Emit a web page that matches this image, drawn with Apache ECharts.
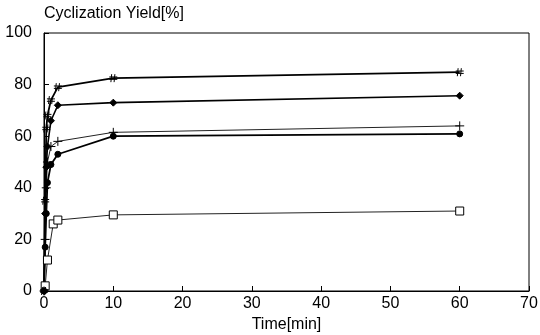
<!DOCTYPE html>
<html>
<head>
<meta charset="utf-8">
<script src="https://cdn.jsdelivr.net/npm/echarts@6/dist/echarts.min.js"></script>
<style>
  html, body { margin: 0; padding: 0; background: #fff; }
  #chart { width: 540px; height: 335px; }
</style>
</head>
<body>
<div id="chart"></div>
<script>
// time points (min) and yields (%)
const timeA = [0, 0.17, 0.33, 0.5, 1, 2, 10, 60]
const yieldHash = [0, 35, 63, 68, 74, 79, 82.5, 84.8]
const yieldDiamond = [0, 30, 48, 56, 66, 72, 73, 75.7]
const yieldPlus = [0, 20, 40, 50, 56, 58, 61.5, 64]
const yieldCircle = [0, 17, 30, 42, 49, 53, 60, 60.9]
const timeSquare = [0.17, 0.5, 1.33, 2, 10, 60]
const yieldSquare = [2, 12, 26, 27.5, 29.5, 31]

const xTicks = [0, 10, 20, 30, 40, 50, 60, 70]
const yTicks = [0, 20, 40, 60, 80, 100]

const FONT = '"Liberation Sans", Arial, sans-serif'

const pair = (xs, ys) => xs.map((x, i) => [x, ys[i]])

// marker shapes
const HASH = 'path://M3,0L2,10M7,0L6,10M0,3.5L10,3.5M0,6.5L10,6.5'
const PLUS = 'path://M5,0L5,10M0,5L10,5'

function makeSeries(data, symbol, size, lineWidth, fill, lineColor) {
  return {
    type: 'line',
    data,
    symbol,
    symbolSize: size,
    clip: false,
    lineStyle: { color: lineColor || '#000', width: lineWidth },
    itemStyle: {
      color: fill,
      borderColor: '#000',
      borderWidth: 1
    },
    emphasis: { disabled: true },
    animation: false
  }
}

const chart = echarts.init(document.getElementById('chart'))

chart.setOption({
  animation: false,
  grid: {
    left: 44,
    right: 11,
    top: 33,
    bottom: 44,
    outerBoundsMode: 'none',
    show: true,
    borderColor: '#000',
    borderWidth: 1
  },
  xAxis: {
    type: 'value',
    min: xTicks[0],
    max: xTicks[xTicks.length - 1],
    interval: 10,
    name: 'Time[min]',
    nameLocation: 'middle',
    nameGap: 26,
    nameTextStyle: { color: '#000', fontSize: 16, fontFamily: FONT },
    axisLine: { show: true, lineStyle: { color: '#000' } },
    axisTick: { show: true, inside: true, length: 5, lineStyle: { color: '#000' } },
    axisLabel: { color: '#000', fontSize: 16, fontFamily: FONT, margin: 5 },
    splitLine: { show: false }
  },
  yAxis: {
    type: 'value',
    min: yTicks[0],
    max: yTicks[yTicks.length - 1],
    interval: 20,
    name: 'Cyclization Yield[%]',
    nameLocation: 'end',
    nameGap: 11,
    nameTextStyle: { color: '#000', fontSize: 16, fontFamily: FONT, align: 'left' },
    axisLine: { show: true, lineStyle: { color: '#000' } },
    axisTick: { show: true, inside: true, length: 5, lineStyle: { color: '#000' } },
    axisLabel: { color: '#000', fontSize: 16, fontFamily: FONT, margin: 12 },
    splitLine: { show: false }
  },
  series: [
    makeSeries(pair(timeSquare, yieldSquare), 'rect', 8, 1, '#fff', '#222'),
    makeSeries(pair(timeA, yieldCircle), 'circle', 6, 1.8, '#000'),
    makeSeries(pair(timeA, yieldPlus), PLUS, 9, 1, 'transparent', '#222'),
    makeSeries(pair(timeA, yieldDiamond), 'diamond', 7, 1.6, '#000'),
    makeSeries(pair(timeA, yieldHash), HASH, 8, 1.8, 'transparent')
  ]
})
</script>
</body>
</html>
